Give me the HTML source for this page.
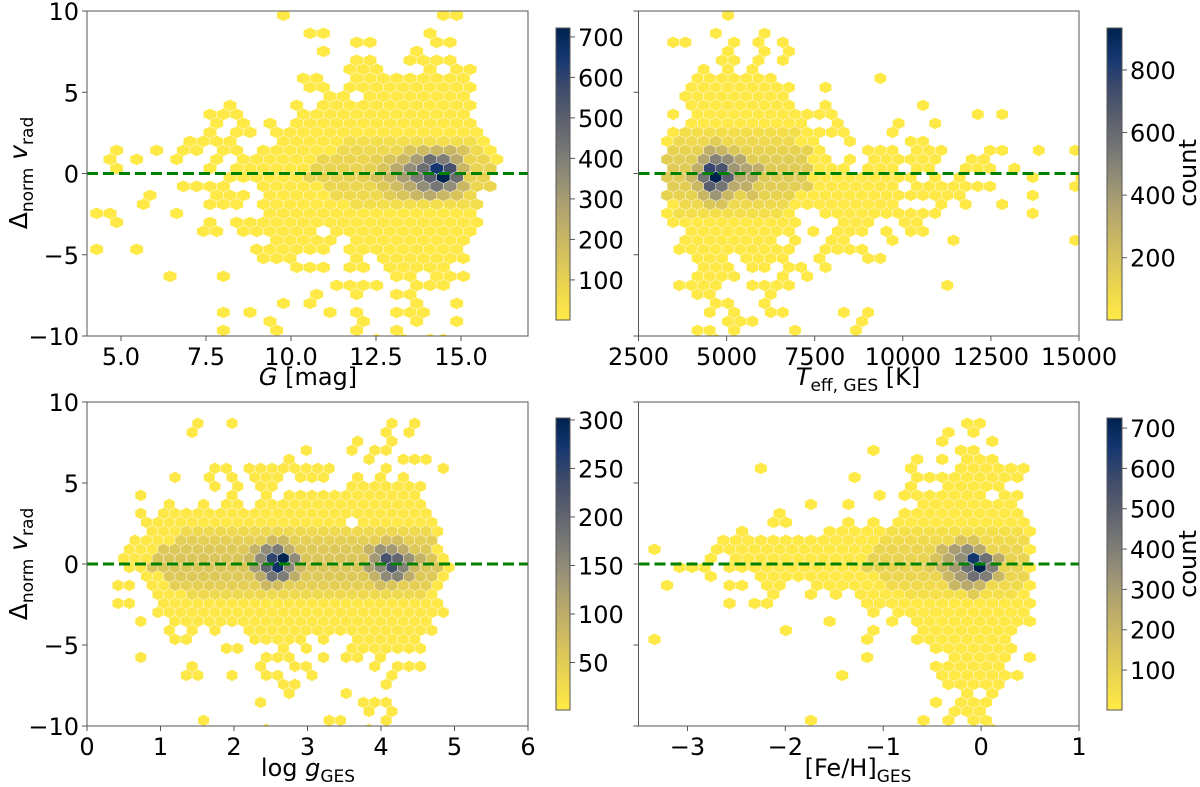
<!DOCTYPE html>
<html><head><meta charset="utf-8"><style>
html,body{margin:0;padding:0;background:#fff;}
svg{display:block;font-family:"DejaVu Sans","Liberation Sans",sans-serif;}
</style></head><body>
<svg id="fig" width="1200" height="787" viewBox="0 0 1200 787" xmlns="http://www.w3.org/2000/svg"></svg>
<script>
// ---------- DATA ----------
const p1Rows=[[[15,15],[27,28]],[],[[17,18],[26,26]],[[20,21],[26,27]],[[18,18],[25,25]],[[20,21],[24,27]],[[20,22],[26,26],[28,29]],[[16,17],[20,28]],[[17,18],[20,29]],[[18,19],[21,28]],[[11,11],[16,16],[18,29]],[[9,11],[16,28]],[[10,10],[12,12],[14,14],[16,29]],[[9,9],[11,12],[14,29]],[[8,11],[15,30]],[[2,2],[5,5],[7,8],[10,11],[13,30]],[[2,2],[4,4],[7,7],[10,10],[12,31]],[[2,2],[9,9],[11,30]],[[11,30]],[[7,10],[13,30]],[[5,5],[10,12],[14,29]],[[4,4],[9,11],[13,29]],[[1,2],[7,7],[14,29]],[[2,2],[9,9],[11,29]],[[9,10],[12,17],[19,29]],[[14,18],[20,28]],[[1,1],[4,4],[13,18],[20,28]],[[13,15],[20,20],[22,28]],[[16,18],[20,21],[23,27]],[[6,6],[10,10],[23,24],[26,28]],[[19,22],[25,27]],[[17,17],[20,20],[23,24]],[[15,15],[17,17],[25,25],[28,28]],[[10,10],[12,12],[18,18],[20,20],[23,25]],[[14,14],[21,21],[25,25],[28,28]],[[10,10],[14,14],[20,20],[23,23]],[[22,22],[24,24],[26,27]]];
const p1Mid=[[14,20,29,50],[15,19,29,70],[16,18,30,80],[17,17,30,90],[18,17,30,90],[19,18,30,80],[20,19,29,70],[21,20,29,50]];
const p1Dense=[[17,21,100],[17,22,150],[17,23,250],[17,24,350],[17,25,450],[17,26,650],[17,27,550],[17,28,200],[18,21,100],[18,22,150],[18,23,200],[18,24,300],[18,25,400],[18,26,500],[18,27,720],[18,28,450],[18,29,100],[16,22,100],[16,23,150],[16,24,200],[16,25,300],[16,26,450],[16,27,400],[16,28,250],[19,22,130],[19,23,180],[19,24,250],[19,25,350],[19,26,420],[19,27,350],[19,28,200],[15,24,150],[15,25,180],[15,26,200],[15,27,200],[15,28,150],[20,23,120],[20,24,150],[20,25,200],[20,26,250],[20,27,200],[20,28,150]];

const p2Rows=[[[5,5]],[],[[4,4],[8,8]],[[0,1],[5,5],[7,7],[9,9]],[[5,5],[8,8],[10,10]],[[4,5],[7,7],[9,9]],[[3,3],[5,5],[7,7]],[[2,8],[17,17]],[[2,10],[13,13]],[[1,9]],[[2,10],[13,13],[21,21]],[[0,0],[2,13],[25,25],[27,27]],[[2,11],[14,14],[19,19],[22,22]],[[0,14],[18,18]],[[0,12],[15,15],[20,21]],[[0,12],[16,18],[20,22],[26,27],[30,30],[33,33]],[[0,13],[15,15],[17,22],[25,26]],[[0,14],[16,18],[20,21],[24,26],[28,28]],[[0,20],[22,22],[24,24],[30,30],[34,34]],[[0,18],[20,26],[33,33]],[[0,24],[30,30]],[[0,18],[22,22],[24,24],[27,27]],[[0,10],[13,22],[30,30]],[[0,10],[14,16],[19,20]],[[2,10],[12,12],[14,16],[18,18],[20,21]],[[1,8],[10,10],[13,14],[18,18],[23,23],[33,33]],[[1,10],[13,16]],[[2,4],[6,9],[12,12],[16,17]],[[3,5],[7,8],[10,11],[13,13]],[[2,5],[9,9],[11,11]],[[1,4],[7,10],[23,23]],[[2,3],[8,8]],[[4,5],[8,8]],[[3,3],[5,5],[8,9],[14,14],[16,16]],[[5,7],[16,16]],[[2,3],[5,5],[10,10],[15,15]],[[4,4]]];
const p2Mid=[[13,1,10,60],[14,1,10,90],[15,0,11,120],[16,0,11,150],[17,0,11,160],[18,0,11,160],[19,0,11,150],[20,0,10,120],[21,1,9,90],[22,1,9,60]];
const p2Dense=[[18,4,934],[17,3,760],[17,4,700],[17,2,300],[17,5,420],[16,4,500],[16,5,450],[16,3,350],[19,3,650],[19,4,550],[19,2,250],[19,5,320],[18,3,560],[18,5,640],[18,2,250],[18,6,320],[18,7,330],[20,4,420],[20,3,260],[20,5,250],[20,7,200],[17,6,360],[17,7,300],[16,6,350],[19,6,300],[15,3,300],[15,4,260],[15,5,180],[21,4,200],[21,3,180],[14,4,150]];

const p3Rows=[[],[],[[7,7],[10,10],[24,24],[26,26]],[[6,6],[23,23],[25,25]],[[21,21],[24,24]],[[16,16],[20,20],[22,23]],[[15,15],[22,22],[25,27]],[[8,9],[11,15],[16,18],[23,23],[28,28]],[[5,5],[8,8],[10,10],[12,14],[16,18],[21,21],[23,23],[25,25]],[[8,8],[10,10],[12,13],[20,26]],[[2,2],[10,10],[13,13],[15,26]],[[4,4],[7,7],[9,10],[12,26]],[[2,2],[4,27]],[[2,19],[21,27]],[[3,28]],[[1,27]],[[1,28]],[[0,28]],[[1,29]],[[2,28]],[[0,1],[3,28]],[[3,27]],[[0,1],[4,28]],[[3,28]],[[2,2],[5,27]],[[4,4],[6,6],[8,8],[11,17],[18,27]],[[5,6],[12,16],[18,18],[21,26]],[[9,10],[14,14],[16,16],[20,25],[26,26]],[[2,2],[13,15],[18,18],[20,21],[23,23]],[[6,6],[12,12],[15,16],[22,22],[24,26]],[[6,7],[10,10],[13,14],[17,17],[24,24]],[[14,15],[23,23]],[[15,15],[20,20]],[[12,12],[21,22],[23,23]],[[22,22],[24,24]],[[7,7],[18,19],[23,23]],[[13,13],[22,22]]];
const p3Mid=[[14,6,27,30],[15,5,27,45],[16,4,27,55],[17,3,27,60],[18,3,28,60],[19,4,27,55],[20,5,27,45],[21,6,26,30]];
const p3Dense=[[17,13,250],[17,14,300],[17,12,150],[17,15,150],[17,11,80],[18,13,200],[18,14,280],[18,12,130],[18,15,150],[18,16,80],[16,13,150],[16,14,170],[16,15,100],[16,12,90],[19,13,180],[19,14,170],[19,12,100],[19,15,100],[15,13,80],[15,14,80],[20,13,80],[20,14,70],[17,23,230],[17,24,200],[17,22,130],[17,25,140],[17,26,90],[18,24,230],[18,23,150],[18,25,160],[18,22,120],[18,26,80],[16,23,140],[16,24,130],[16,22,90],[16,25,100],[19,23,150],[19,24,160],[19,25,100],[19,22,90],[15,23,70],[15,24,70],[20,23,70],[20,24,60]];

const p4Rows=[[],[],[[27,28]],[[25,25],[27,27]],[[25,25],[29,29]],[[19,19],[26,27]],[[23,23],[25,25],[27,29]],[[10,10],[22,22],[26,29],[30,31]],[[18,18],[23,24],[25,30],[31,31]],[[22,22],[25,29]],[[20,20],[22,28],[30,31]],[[14,14],[17,17],[23,30]],[[12,12],[22,31]],[[11,12],[17,17],[19,19],[21,31]],[[9,9],[16,32]],[[7,31]],[[2,2],[7,7],[8,32]],[[6,6],[8,31]],[[4,6],[8,32]],[[6,6],[10,31]],[[3,3],[8,9],[11,12],[15,32]],[[11,11],[14,14],[16,16],[18,31]],[[8,8],[10,11],[19,32]],[[19,19],[21,31]],[[16,16],[21,21],[23,32]],[[12,12],[19,19],[23,30]],[[2,2],[19,19],[23,30]],[[24,30]],[[19,19],[26,30],[32,32]],[[24,29]],[[17,17],[25,30],[31,31]],[[25,29]],[[27,27],[29,29]],[[24,24],[26,28]],[[26,28]],[[14,14],[23,23],[25,25],[27,28]],[[29,29]]];
const p4Mid=[[14,21,31,40],[15,20,31,60],[16,20,31,80],[17,19,31,90],[18,19,31,90],[19,20,31,80],[20,21,31,60],[21,22,30,40]];
const p4Dense=[[18,28,725],[18,27,450],[18,29,400],[18,26,300],[18,25,200],[18,24,120],[17,27,650],[17,28,450],[17,26,350],[17,25,250],[17,29,250],[17,24,150],[16,27,350],[16,26,300],[16,28,250],[16,25,200],[19,27,450],[19,28,400],[19,26,300],[19,25,200],[19,29,200],[20,27,250],[20,26,200],[20,28,200],[15,26,150],[15,27,150],[21,27,120]];
const defaultCount=5;

const p1XTicks=[5.0,7.5,10.0,12.5,15.0];
const p1XLabels=["5.0","7.5","10.0","12.5","15.0"];
const p2XTicks=[2500,5000,7500,10000,12500,15000];
const p3XTicks=[0,1,2,3,4,5,6];
const p4XTicks=[-3,-2,-1,0,1];
const yTicks=[10,5,0,-5,-10];
const cb1Ticks=[100,200,300,400,500,600,700];
const cb2Ticks=[200,400,600,800];
const cb3Ticks=[50,100,150,200,250,300];
const cb4Ticks=[100,200,300,400,500,600,700];

const NS="http://www.w3.org/2000/svg";
const svg=document.getElementById('fig');
const FS=24;
function mk(tag,attrs,parent){const e=document.createElementNS(NS,tag);for(const k in attrs)e.setAttribute(k,attrs[k]);(parent||svg).appendChild(e);return e;}
const stops=[[0,[255,234,70]],[0.1,[238,216,78]],[0.2,[218,197,90]],[0.3,[196,178,102]],[0.4,[172,160,113]],[0.5,[142,138,120]],[0.6,[114,115,116]],[0.7,[88,93,109]],[0.8,[59,73,108]],[0.9,[20,54,112]],[1,[0,34,78]]];
function cmap(t){t=Math.max(0,Math.min(1,t));for(let i=1;i<stops.length;i++){if(t<=stops[i][0]){const a=stops[i-1],b=stops[i];const f=(t-a[0])/(b[0]-a[0]);const c=a[1].map((v,j)=>Math.round(v+(b[1][j]-v)*f));return `rgb(${c[0]},${c[1]},${c[2]})`;}}return 'rgb(0,34,78)';}
function fmtMinus(s){return String(s).replace('-','\u2212');}

function panel(cfg){
  const {id,L,R,T,B,xmin,xmax,rows,mid,dense,gx0,gdx,gy0,gdy,cmax,cb,cbTicks,xticks,xlabels,yLabels}=cfg;
  const sx=v=>L+(v-xmin)/(xmax-xmin)*(R-L);
  const sy=v=>T+(10-v)/20*(B-T);
  const g=mk('g',{});
  
  
  const cp=mk('clipPath',{id:id+'-clip'},g);mk('rect',{x:L,y:T,width:R-L,height:B-T},cp);
  const counts={};
  rows.forEach((rr,j)=>rr.forEach(([a,b])=>{for(let k=a;k<=b;k++)counts[j+','+k]=defaultCount;}));
  mid.forEach(([j,a,b,c])=>{for(let k=a;k<=b;k++)if(counts[j+','+k]!==undefined)counts[j+','+k]=c;});
  dense.forEach(([j,k,c])=>{counts[j+','+k]=c;});
  const hg=mk('g',{'clip-path':`url(#${id}-clip)`},g);
  
  
  const wpx=Math.abs(sx(gx0+gdx)-sx(gx0)), rpx=Math.abs(sy(gy0+gdy)-sy(gy0))/1.5;
  for(const key in counts){
    const [j,k]=key.split(',').map(Number);
    const cx=sx(gx0+gdx*(k+(j%2?0.5:0))), cy=sy(gy0+gdy*j);
    const hw=wpx/2, r=rpx;
    const pts=[[cx,cy-r],[cx+hw,cy-r/2],[cx+hw,cy+r/2],[cx,cy+r],[cx-hw,cy+r/2],[cx-hw,cy-r/2]].map(p=>p[0].toFixed(2)+','+p[1].toFixed(2)).join(' ');
    const h=mk('polygon',{points:pts,fill:cmap((counts[key]-1)/(cmax-1)),stroke:'#ffffff','stroke-width':0.4},hg);
    
    
  }
  const zl=mk('line',{x1:L,x2:R,y1:sy(0),y2:sy(0),stroke:'#008000','stroke-width':3,'stroke-dasharray':'11,5'},g);
  
  
  const fr=mk('rect',{x:L,y:T,width:R-L,height:B-T,fill:'none',stroke:'#555','stroke-width':1},g);
  
  
  xticks.forEach((v,i)=>{
    const x=sx(v);
    mk('line',{x1:x,x2:x,y1:B,y2:B+5,stroke:'#555','stroke-width':1},g);
    const t=mk('text',{x:x,y:B+29,'text-anchor':'middle','font-size':FS,fill:'#000'},g);
    t.textContent=fmtMinus(xlabels?xlabels[i]:v);
    
    
  });
  yTicks.forEach(v=>{
    const y=sy(v);
    mk('line',{x1:L-5,x2:L,y1:y,y2:y,stroke:'#555','stroke-width':1},g);
    if(yLabels){
      const t=mk('text',{x:L-8,y:y+9,'text-anchor':'end','font-size':FS,fill:'#000'},g);
      t.textContent=fmtMinus(v);
      
      
    }
  });
  const [cL,cR,cT,cB]=cb;
  const gid=id+'-grad';
  const lg=mk('linearGradient',{id:gid,x1:0,y1:1,x2:0,y2:0},g);
  stops.forEach(([o,c])=>mk('stop',{offset:o,'stop-color':`rgb(${c[0]},${c[1]},${c[2]})`},lg));
  const cbr=mk('rect',{x:cL,y:cT,width:cR-cL,height:cB-cT,fill:`url(#${gid})`,stroke:'#555','stroke-width':1},g);
  
  
  const cy=v=>cB-(v-1)/(cmax-1)*(cB-cT);
  cbTicks.forEach(v=>{
    mk('line',{x1:cR,x2:cR+5,y1:cy(v),y2:cy(v),stroke:'#555','stroke-width':1},g);
    const t=mk('text',{x:cR+8,y:cy(v)+9,'font-size':FS,fill:'#000'},g);
    t.textContent=v;
    
    
  });
}

panel({id:'p1',L:87,R:528,T:11,B:336,xmin:4,xmax:16.97,rows:p1Rows,mid:p1Mid,dense:p1Dense,gx0:3.892,gdx:0.3922,gy0:9.733,gdy:-0.554,cmax:722,cb:[556,570,28,320],cbTicks:cb1Ticks,xticks:p1XTicks,xlabels:p1XLabels,yLabels:true});
panel({id:'p2',L:638.5,R:1079,T:11,B:336,xmin:2500,xmax:15000,rows:p2Rows,mid:p2Mid,dense:p2Dense,gx0:3311,gdx:345.8,gy0:9.733,gdy:-0.554,cmax:934,cb:[1107,1122,28,320],cbTicks:cb2Ticks,xticks:p2XTicks,yLabels:false});
panel({id:'p3',L:87,R:528,T:402,B:726,xmin:0,xmax:6,rows:p3Rows,mid:p3Mid,dense:p3Dense,gx0:0.421,gdx:0.1553,gy0:9.79,gdy:-0.5556,cmax:302,cb:[556,570,418,710],cbTicks:cb3Ticks,xticks:p3XTicks,yLabels:true});
panel({id:'p4',L:638.5,R:1079,T:402,B:726,xmin:-3.5,xmax:1,rows:p4Rows,mid:p4Mid,dense:p4Dense,gx0:-3.592,gdx:0.1278,gy0:9.79,gdy:-0.5556,cmax:725,cb:[1107,1122,418,710],cbTicks:cb4Ticks,xticks:p4XTicks,yLabels:false});
</script>
<script>
(function(){
const NS="http://www.w3.org/2000/svg";const svg=document.getElementById('fig');
function txt(html,attrs,name){const t=document.createElementNS(NS,'text');for(const k in attrs)t.setAttribute(k,attrs[k]);t.innerHTML=html;svg.appendChild(t);return t;}
const sub='<tspan font-size="17" dy="6">';
const ylab='Δ'+sub+'norm</tspan><tspan dy="-6" font-style="italic"> v</tspan>'+sub+'rad</tspan>';
txt(ylab,{x:0,y:0,'font-size':25,'text-anchor':'middle',transform:'translate(27,173) rotate(-90)'},'y-axis-title-top');
txt(ylab,{x:0,y:0,'font-size':25,'text-anchor':'middle',transform:'translate(27,564) rotate(-90)'},'y-axis-title-bottom');
txt('<tspan font-style="italic">G</tspan> [mag]',{x:308,y:385,'font-size':24,'text-anchor':'middle'},'x-axis-title-g');
txt('<tspan font-style="italic">T</tspan>'+sub+'eff, GES</tspan><tspan dy="-6"> [K]</tspan>',{x:858,y:385,'font-size':24,'text-anchor':'middle'},'x-axis-title-teff');
txt('log <tspan font-style="italic">g</tspan>'+sub+'GES</tspan>',{x:308,y:776,'font-size':24,'text-anchor':'middle'},'x-axis-title-logg');
txt('[Fe/H]'+sub+'GES</tspan>',{x:858,y:776,'font-size':24,'text-anchor':'middle'},'x-axis-title-feh');
txt('count',{x:0,y:0,'font-size':24,'text-anchor':'middle',transform:'translate(1196,173) rotate(-90)'},'colorbar-label-top');
txt('count',{x:0,y:0,'font-size':24,'text-anchor':'middle',transform:'translate(1196,564) rotate(-90)'},'colorbar-label-bottom');
})();
</script>
</body></html>
